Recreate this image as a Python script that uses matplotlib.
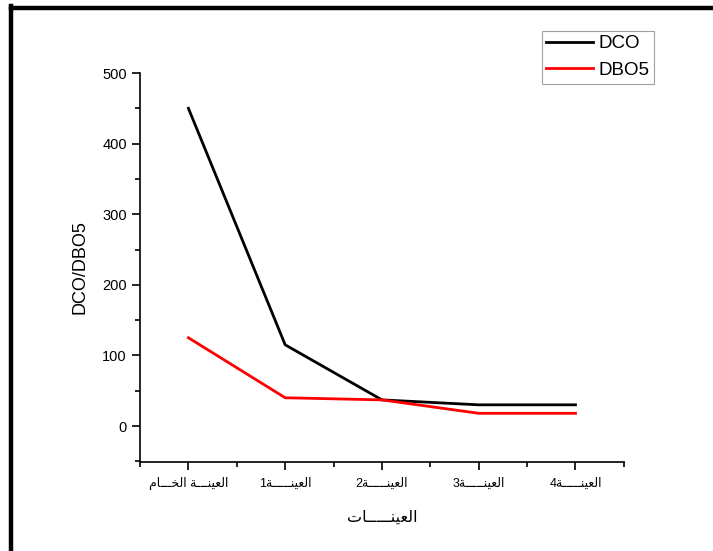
import matplotlib
matplotlib.use("Agg")
import matplotlib.pyplot as plt
from matplotlib.lines import Line2D
from matplotlib.ticker import MultipleLocator, FixedLocator

plt.rcParams['font.family'] = ['Liberation Sans', 'DejaVu Sans']

# ---- data ----
categories = ["العينـــة الخـــام", "العينـــــة1", "العينـــــة2", "العينـــــة3", "العينـــــة4"]
dco = [450, 115, 37, 30, 30]
dbo5 = [125, 40, 37, 18, 18]
x_label = "العينـــــات"
y_label = "DCO/DBO5"
series_names = ["DCO", "DBO5"]

# ---- minimal Arabic shaping (presentation forms) + RTL visual order ----
FORMS = {  # iso, fin, ini, med
    'ا': ('\uFE8D', '\uFE8E', None, None),
    'ة': ('\uFE93', '\uFE94', None, None),
    'ل': ('\uFEDD', '\uFEDE', '\uFEDF', '\uFEE0'),
    'ع': ('\uFEC9', '\uFECA', '\uFECB', '\uFECC'),
    'ي': ('\uFEF1', '\uFEF2', '\uFEF3', '\uFEF4'),
    'ن': ('\uFEE5', '\uFEE6', '\uFEE7', '\uFEE8'),
    'خ': ('\uFEA5', '\uFEA6', '\uFEA7', '\uFEA8'),
    'م': ('\uFEE1', '\uFEE2', '\uFEE3', '\uFEE4'),
    'ت': ('\uFE95', '\uFE96', '\uFE97', '\uFE98'),
}
TATWEEL = '\u0640'


def dual(c):
    return c == TATWEEL or (c in FORMS and FORMS[c][2] is not None)


def joining(c):
    return c == TATWEEL or c in FORMS


def shape(s):
    out = []
    for i, c in enumerate(s):
        if c not in FORMS:
            out.append(c)
            continue
        prev_j = i > 0 and dual(s[i - 1])
        next_j = dual(c) and i + 1 < len(s) and joining(s[i + 1])
        iso, fin, ini, med = FORMS[c]
        if prev_j and next_j:
            out.append(med)
        elif prev_j:
            out.append(fin)
        elif next_j:
            out.append(ini)
        else:
            out.append(iso)
    return ''.join(out)


def visual(s):
    sh = shape(s)
    runs = []
    for ch in sh:
        kind = 'ltr' if (ch.isascii() and ch.isalnum()) else 'rtl'
        if runs and runs[-1][0] == kind:
            runs[-1][1].append(ch)
        else:
            runs.append([kind, [ch]])
    parts = []
    for kind, chars in reversed(runs):
        parts.append(''.join(reversed(chars)) if kind == 'rtl' else ''.join(chars))
    return ''.join(parts)


# ---- figure ----
fig = plt.figure(figsize=(7.13, 5.51), dpi=100)
ax = fig.add_axes([0.1964, 0.1615, 0.6786, 0.7060])

xs = list(range(len(categories)))
ax.plot(xs, dco, color='black', lw=2.0, label=series_names[0])
ax.plot(xs, dbo5, color='#ff0000', lw=2.0, label=series_names[1])

ax.set_xlim(-0.5, len(categories) - 0.5)
ax.set_ylim(-51, 500)

ax.spines['top'].set_visible(False)
ax.spines['right'].set_visible(False)
for sp in ('left', 'bottom'):
    ax.spines[sp].set_linewidth(1.2)

ax.set_xticks(xs)
ax.set_xticklabels([visual(c) for c in categories])
ax.xaxis.set_minor_locator(FixedLocator([i - 0.5 for i in range(len(categories) + 1)]))
ax.yaxis.set_major_locator(MultipleLocator(100))
ax.yaxis.set_minor_locator(MultipleLocator(50))
ax.tick_params(which='major', direction='out', length=6, width=1.2, labelsize=10.5)
ax.tick_params(which='minor', direction='out', length=3.5, width=1.2)
ax.tick_params(axis='x', which='major', labelsize=9, pad=5)

ax.set_ylabel(y_label, fontsize=13, labelpad=10)
ax.set_xlabel(visual(x_label), fontsize=11.5, labelpad=14)

leg = ax.legend(loc='upper left', bbox_to_anchor=(541.5 / 713, 1 - 30.5 / 551),
                bbox_transform=fig.transFigure, fontsize=13.5,
                frameon=True, fancybox=False, framealpha=1, edgecolor='#a0a0a0',
                handlelength=2.5, handletextpad=0.3, borderpad=0.25,
                labelspacing=0.5, borderaxespad=0)
leg.get_frame().set_linewidth(0.8)

# outer black frame (left and top edges visible)
W, H = 713.0, 551.0
fig.add_artist(Line2D([10.5 / W, 10.5 / W], [0, 1 - 6 / H], color='black', lw=3.2,
                      transform=fig.transFigure, solid_capstyle='projecting'))
fig.add_artist(Line2D([10.5 / W, 1.0], [1 - 8 / H, 1 - 8 / H], color='black', lw=3.2,
                      transform=fig.transFigure, solid_capstyle='projecting'))

fig.savefig('out.png', dpi=100, facecolor='white')
